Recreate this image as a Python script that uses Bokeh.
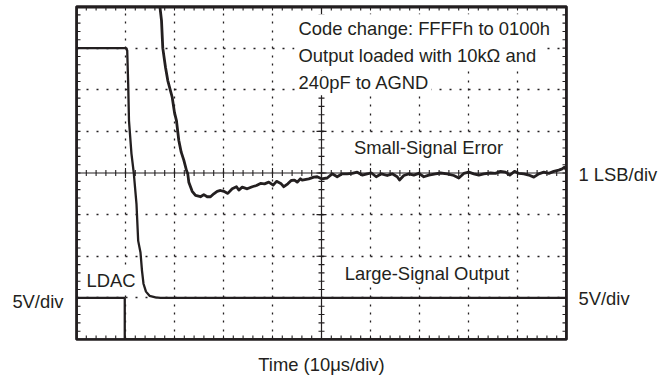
import numpy as np
from bokeh.plotting import figure
from bokeh.models import Range1d, Span, Label, Grid, FixedTicker, LinearAxis
from bokeh.embed import file_html
from bokeh.resources import INLINE

# ---- data (time in us, 10 us/div; vertical values in screen divisions, centre = 0) ----
ldac_t = [0, 9.85, 9.85, 100]
ldac_v = [-3.0, -3.0, -4.0, -4.0]

out_t = [0, 10.1, 10.35, 10.55, 10.71, 11.22, 11.69, 12.24, 12.59, 13.06, 13.37,
         13.67, 14.18, 14.9, 16.12, 17.14, 100]
out_v = [3.0, 3.0, 2.94, 2.14, 1.26, 0.46, 0.0, -0.74, -1.63, -1.91, -2.35,
         -2.66, -2.85, -2.95, -2.99, -3.0, -3.0]

err_t = [16.9, 17.0, 17.35, 17.61, 18.16, 18.63, 19.53, 20.0, 20.4, 20.88,
         21.37, 21.9, 22.45, 22.71, 22.92, 23.61, 24.29, 25.31, 25.98, 26.67,
         27.35, 28.02, 28.71, 29.39, 30.06, 30.88, 31.78, 32.65, 33.12, 33.82,
         34.84, 35.86, 36.73, 37.55, 38.37, 39.24, 40.14, 40.82, 41.78, 42.31,
         43.12, 43.82, 44.49, 45.04, 45.71, 46.06, 47.41, 48.43, 49.12, 50.0,
         51.16, 52.18, 53.2, 54.22, 55.24, 56.27, 57.29, 58.31, 59.33, 60.2,
         61.16, 62.24, 63.41, 64.43, 65.45, 65.92, 66.8, 67.82, 68.84, 69.86,
         70.88, 71.9, 73.27, 74.29, 75.65, 77.0, 78.02, 79.04, 80.06, 81.08,
         82.1, 83.12, 84.49, 85.51, 86.53, 87.55, 88.43, 89.39, 90.27, 91.29,
         92.31, 93.33, 94.35, 95.37, 96.39, 97.41, 98.43, 99.12, 99.59, 100.0]
err_v = [4.4, 4.02, 3.66, 3.0, 2.54, 2.22, 1.82, 1.45, 1.26, 0.78,
         0.50, 0.31, 0.06, -0.02, -0.22, -0.44, -0.54, -0.57, -0.52, -0.57,
         -0.57, -0.50, -0.44, -0.42, -0.44, -0.49, -0.38, -0.33, -0.41, -0.34,
         -0.38, -0.33, -0.30, -0.25, -0.26, -0.22, -0.29, -0.20, -0.26, -0.33,
         -0.26, -0.18, -0.17, -0.22, -0.14, -0.17, -0.14, -0.10, -0.09, -0.14,
         -0.12, -0.02, -0.09, -0.02, -0.02, -0.01, 0.02, -0.05, -0.02, 0.0,
         -0.09, -0.02, -0.06, -0.02, -0.09, -0.17, -0.06, -0.02, -0.05, -0.01,
         -0.09, -0.05, -0.02, 0.0, -0.02, -0.06, -0.12, -0.01, 0.02, -0.02,
         -0.05, -0.02, 0.0, -0.01, 0.04, 0.02, -0.05, 0.04, -0.01, -0.02,
         -0.05, -0.10, -0.02, 0.02, -0.01, 0.04, 0.07, 0.10, 0.14, 0.07]

# graticule divisions
x_div_ticks = [0, 10, 20, 30, 40, 50, 60, 70, 80, 90, 100]
y_div_ticks = [-4, -3, -2, -1, 0, 1, 2, 3, 4]

note_lines = ["Code change: FFFFh to 0100h",
              "Output loaded with 10k\u03a9 and",
              "240pF to AGND"]
x_title = "Time (10\u03bcs/div)"
left_scale = "5V/div"
right_scales = ["5V/div", "1 LSB/div"]

INK = "#231f20"
FONT = "Liberation Sans"
FS = "18.4px"

# frame geometry (pixels) used to place the annotation texts
PX_L, PX_R, PY_T, PY_B = 76, 566, 6, 339
W, H = 672, 380


def tx(x):
    return (x - PX_L) / (PX_R - PX_L) * 100.0


def vy(y):
    return 4.0 - (y - PY_T) / (PY_B - PY_T) * 8.0


p = figure(width=W, height=H, x_range=Range1d(0, 100), y_range=Range1d(-4, 4),
           x_axis_type=None, y_axis_type=None, toolbar_location=None,
           output_backend="svg",
           min_border_left=PX_L, min_border_right=W - PX_R,
           min_border_top=PY_T, min_border_bottom=H - PY_B)
p.background_fill_color = "white"
p.border_fill_color = "white"
p.outline_line_color = INK
p.outline_line_width = 2.7


def text_axis(ax, ticks, labels, standoff):
    ax.ticker = FixedTicker(ticks=ticks, minor_ticks=[])
    ax.major_label_overrides = {t: s for t, s in zip(ticks, labels)}
    ax.major_tick_in = 0
    ax.major_tick_out = 0
    ax.minor_tick_in = 0
    ax.minor_tick_out = 0
    ax.axis_line_color = None
    ax.major_label_standoff = standoff
    ax.major_label_text_font = FONT
    ax.major_label_text_font_size = FS
    ax.major_label_text_color = INK
    return ax


ly = round(vy(301.0), 4)
p.add_layout(text_axis(LinearAxis(), [ly], [left_scale], 13), "left")
r1, r2 = round(vy(297.6), 4), round(vy(173.6), 4)
p.add_layout(text_axis(LinearAxis(), [r1, r2], right_scales, 12), "right")
bx = text_axis(LinearAxis(), [], [], 0)
bx.axis_label = x_title
bx.axis_label_standoff = 14
bx.axis_label_text_font = FONT
bx.axis_label_text_font_size = FS
bx.axis_label_text_font_style = "normal"
bx.axis_label_text_color = INK
p.add_layout(bx, "below")

# dotted graticule (dot every 1/5 division)
vgrid = Grid(dimension=0, ticker=FixedTicker(ticks=[t for t in x_div_ticks if t not in (0, 50, 100)]),
             grid_line_color=INK, grid_line_width=1.3,
             grid_line_dash="2 6 2 7 2 6 2 6 2 7 2 6 2 6 2 7 2 6 2 6")
hgrid = Grid(dimension=1, ticker=FixedTicker(ticks=[t for t in y_div_ticks if t not in (-4, 0, 4)]),
             grid_line_color=INK, grid_line_width=1.3,
             grid_line_dash="2 8 2 8 2 8 2 8 2 7")
p.add_layout(vgrid)
p.add_layout(hgrid)

# centre cross-hair
p.add_layout(Span(location=50, dimension="height", line_color=INK, line_width=1.2))
p.add_layout(Span(location=0, dimension="width", line_color=INK, line_width=1.2))

minor_x = np.arange(0, 101, 2)
major_x = np.array(x_div_ticks)
minor_y = np.round(np.arange(-4, 4.001, 0.2), 2)
major_y = np.array(y_div_ticks)

# ticks on the centre lines
p.scatter(x=minor_x, y=0, marker="dash", angle=np.pi / 2, size=6, line_color=INK, line_width=1.1)
p.scatter(x=major_x, y=0, marker="dash", angle=np.pi / 2, size=10, line_color=INK, line_width=1.1)
p.scatter(x=50, y=minor_y, marker="dash", size=6, line_color=INK, line_width=1.1)
p.scatter(x=50, y=major_y, marker="dash", size=10, line_color=INK, line_width=1.1)
# ticks on the border (inner half visible)
p.scatter(x=minor_x, y=-4, marker="dash", angle=np.pi / 2, size=8, line_color=INK, line_width=1.1)
p.scatter(x=minor_x, y=4, marker="dash", angle=np.pi / 2, size=8, line_color=INK, line_width=1.1)
p.scatter(x=0, y=minor_y, marker="dash", size=8, line_color=INK, line_width=1.1)
p.scatter(x=100, y=minor_y, marker="dash", size=8, line_color=INK, line_width=1.1)

# traces
p.line(ldac_t, ldac_v, line_color=INK, line_width=2.3)
p.line(out_t, out_v, line_color=INK, line_width=2.3)
p.line(err_t, err_v, line_color=INK, line_width=2.8, line_join="round")

# heavy graticule border
for loc, dim in ((y_div_ticks[0], "width"), (y_div_ticks[-1], "width"),
                 (x_div_ticks[0], "height"), (x_div_ticks[-1], "height")):
    p.add_layout(Span(location=loc, dimension=dim, line_color=INK, line_width=2.7))
# top edge drawn just inside the frame as well, so it cannot be lost at the canvas seam
p.add_layout(Span(location=vy(PY_T + 1.0), dimension="width", line_color=INK, line_width=2.0))


def lab(x, y, text, align="left", pad=0):
    # x, y: wanted start (or centre) and baseline of the text; compensate for the
    # padded background box that Bokeh anchors at the given point
    dx = -pad if align == "left" else 0
    dy = -(5 + pad)
    p.add_layout(Label(x=tx(x + dx), y=vy(y + dy), text=text, text_font=FONT,
                       text_font_size=FS, text_color=INK, text_align=align,
                       text_baseline="alphabetic",
                       background_fill_color="white", padding=pad))


lab(298, 37.3, note_lines[0], pad=4)
lab(298, 64.0, note_lines[1], pad=4)
lab(298, 89.3, note_lines[2], pad=2)
lab(428, 155.0, "Small-Signal Error", align="center", pad=3)
lab(426.5, 280.7, "Large-Signal Output", align="center", pad=3)
lab(86, 286.7, "LDAC", pad=2)

open("out.html", "w").write(file_html(p, INLINE))
